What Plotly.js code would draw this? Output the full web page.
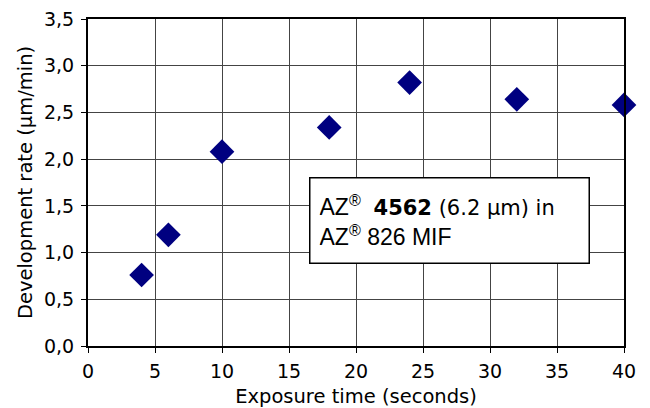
<!DOCTYPE html>
<html>
<head>
<meta charset="utf-8">
<script src="https://cdn.plot.ly/plotly-3.0.1.min.js"></script>
<style>html,body{margin:0;padding:0;background:#fff;}#chart{width:650px;height:408px;}</style>
</head>
<body>
<div id="chart"></div>
<script>
const exposureTime = [4, 6, 10, 18, 24, 32, 40];
const developmentRate = [0.76, 1.19, 2.08, 2.34, 2.82, 2.64, 2.58];
const xTitle = "Exposure time (seconds)";
const yTitle = "Development rate (µm/min)";
const boxText = "AZ<sup>®</sup>&nbsp; <span style=\"font-family:DejaVu Sans;font-size:21px\"><b>4562</b> (6.2 µm) in</span><br>AZ<sup>®</sup> 826 MIF";

const tickFont = {family: "DejaVu Sans, Verdana, sans-serif", size: 19, color: "#000"};
const titleFont = {family: "DejaVu Sans, Verdana, sans-serif", size: 19.5, color: "#000"};

const data = [{
  x: exposureTime,
  y: developmentRate,
  type: "scatter",
  mode: "markers",
  cliponaxis: false,
  marker: {symbol: "diamond", size: 19, color: "#000080", line: {width: 0}}
}];

const layout = {
  width: 650, height: 408,
  margin: {l: 88, r: 26, t: 19, b: 62},
  paper_bgcolor: "#fff", plot_bgcolor: "#fff",
  separators: ",.",
  showlegend: false,
  font: tickFont,
  xaxis: {
    range: [0, 40], dtick: 5, tick0: 0,
    showgrid: true, gridcolor: "#444", gridwidth: 1,
    showline: true, linecolor: "#000", linewidth: 2, mirror: true,
    ticks: "outside", ticklen: 5, tickcolor: "#000", tickwidth: 1,
    ticklabelstandoff: 2,
    zeroline: false,
    tickfont: tickFont,
    title: {text: xTitle, font: titleFont, standoff: 10}
  },
  yaxis: {
    range: [0, 3.5], dtick: 0.5, tick0: 0, tickformat: ".1f",
    showgrid: true, gridcolor: "#444", gridwidth: 1,
    showline: true, linecolor: "#000", linewidth: 2, mirror: true,
    ticks: "outside", ticklen: 5, tickcolor: "#000", tickwidth: 1,
    ticklabelstandoff: 3,
    zeroline: false,
    tickfont: tickFont,
    title: {text: yTitle, font: titleFont, standoff: 6}
  },
  annotations: [{
    x: 16.5, y: 1.81, xref: "x", yref: "y",
    xanchor: "left", yanchor: "top",
    text: boxText, showarrow: false, align: "left", valign: "middle",
    width: 260, height: 66,
    bgcolor: "#fff", bordercolor: "#000", borderwidth: 1.5, borderpad: 9,
    font: {family: "Liberation Sans, Arial, sans-serif", size: 23, color: "#000"}
  }]
};

Plotly.newPlot("chart", data, layout, {displayModeBar: false, staticPlot: true});
</script>
</body>
</html>
